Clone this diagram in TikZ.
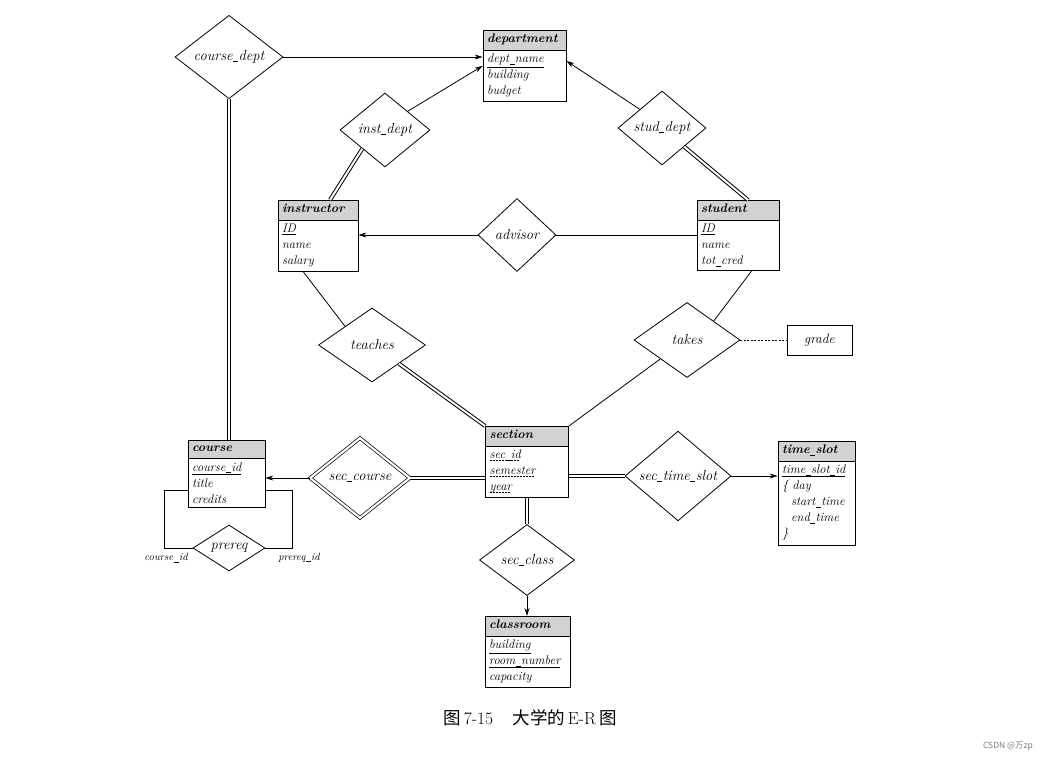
\documentclass[tikz,border=0pt]{standalone}
\usepackage{fontspec}
\newfontfamily\cjk{Noto Sans CJK SC}
\usepackage{tikz}
\usetikzlibrary{arrows.meta}
\usetikzlibrary{shapes.geometric, shapes.multipart}

% short underscore and dashed underline (weak entity discriminator)
\newcommand{\us}{\kern0.4pt\rule[-1.3pt]{5pt}{0.5pt}\kern0.4pt}
\newcommand{\dashul}[1]{\leavevmode\setbox0\hbox{#1}\rlap{\raisebox{-2.2pt}{\hbox to \wd0{\leaders\hbox to 3pt{\vrule height 0.5pt width 2pt\hfil}\hfill}}}\box0}
\newcommand{\hd}[1]{\centering\rule[-3.5pt]{0pt}{10.5pt}\textbf{#1}}

\tikzset{
  entity/.style={rectangle split, rectangle split parts=2, draw, line width=0.8pt,
    rectangle split part fill={gray!35,white}, text width=#1,
    inner xsep=4pt, inner ysep=3.5pt, anchor=north, align=left,
    font=\fontsize{12.5}{16}\selectfont\itshape},
  rel/.style={diamond, draw, line width=0.8pt, inner sep=0pt,
    font=\fontsize{14.5}{16}\selectfont\itshape},
  weakrel/.style={rel, double, double distance=2.2pt, line width=0.7pt},
  dbl/.style={double, double distance=2pt, line width=1pt},
  attrlbl/.style={font=\fontsize{10.5}{12}\selectfont\itshape},
}

\begin{document}
\begin{tikzpicture}[x=1pt, y=-1pt, line width=0.8pt]
\useasboundingbox[fill=white] (0,0) rectangle (1053,763);
\begin{scope}[>={Stealth[black, length=8pt, width=5pt]},
              every edge/.style={draw=black}]
    % entity sets
    \node[entity=75pt] (department) at (524.5,30)
        {\hd{department}\nodepart{second}\underline{dept\us name}\\ building\\ budget};
    \node[entity=72pt] (instructor) at (318,200)
        {\hd{instructor}\nodepart{second}\underline{ID}\\ name\\ salary};
    \node[entity=74pt] (student) at (738,200)
        {\hd{student}\nodepart{second}\underline{ID}\\ name\\ tot\us cred};
    \node[entity=69pt] (course) at (226.5,440)
        {\hd{course}\nodepart{second}\underline{course\us id}\\ title\\ credits};
    \node[entity=75pt] (section) at (527,426)
        {\hd{section}\nodepart{second}\dashul{sec\us id}\\ \dashul{semester}\\ \dashul{year}};
    \node[entity=69pt] (time_slot) at (816.5,441)
        {\hd{time\us slot}\nodepart{second}\underline{time\us slot\us id}\\
         \{ day\\ \hspace*{9pt}start\us time\\ \hspace*{9pt}end\us time\\ \}};
    \node[entity=77pt] (classroom) at (527.5,616)
        {\hd{classroom}\nodepart{second}\underline{building}\\ \underline{room\us number}\\ capacity};
    \node[draw, minimum width=65pt, minimum height=30pt, font=\fontsize{13.5}{16}\selectfont\itshape]
        (grade) at (819.5,340) {grade};
    % relationship sets
    \node[rel, minimum width=108pt, minimum height=76pt] (course_dept) at (229,57) {course\us dept};
    \node[rel, minimum width=90pt, minimum height=74pt] (inst_dept) at (385,130) {inst\us dept};
    \node[rel, minimum width=88pt, minimum height=74pt] (stud_dept) at (662,128) {stud\us dept};
    \node[rel, minimum width=78pt, minimum height=73pt] (advisor) at (517,235) {advisor};
    \node[rel, minimum width=107pt, minimum height=74pt] (teaches) at (372,345) {teaches};
    \node[rel, minimum width=106pt, minimum height=75pt] (takes) at (687,340) {takes};
    \node[weakrel, minimum width=100pt, minimum height=80pt] (sec_course) at (360,478) {sec\us course};
    \node[rel, minimum width=106pt, minimum height=73pt] (sec_time_slot) at (678,476) {sec\us time\us slot};
    \node[rel, minimum width=95pt, minimum height=71pt] (sec_class) at (527,560) {sec\us class};
    \node[rel, minimum width=72pt, minimum height=46pt] (prereq) at (229,548) {prereq};
    % connectors
    \path [->] (course_dept.east) edge (course_dept.east -| department.west);
    \path [->] (inst_dept.north east) edge (department.west);
    \path [->] (stud_dept.north west) edge ([yshift=5pt]department.east);
    \path [->] (advisor.west) edge (advisor.west -| instructor.east);
    \path (advisor.east) edge (advisor.east -| student.west);
    \path ([xshift=-15pt]instructor.south) edge (teaches.north west);
    \path ([xshift=14pt]student.south) edge (takes.north east);
    \path (takes.south west) edge (section.north east);
    \path (takes.east) edge[dash pattern=on 2pt off 1.5pt] (grade.west);
    \path [->] (sec_course.west) edge (sec_course.west -| course.east);
    \path [->] (sec_time_slot.east) edge (sec_time_slot.east -| time_slot.west);
    \path [->] (sec_class.south) edge (sec_class.south |- classroom.north);
\end{scope}
% total participation
\draw[dbl] (course_dept.south) -- (course_dept.south |- course.north);
\draw[dbl] (inst_dept.south west) -- ([xshift=12pt]instructor.north);
\draw[dbl] (stud_dept.south east) -- ([xshift=10pt]student.north);
\draw[dbl] (teaches.south east) -- (section.north west);
\draw[dbl] (sec_course.east) -- (sec_course.east -| section.west);
\draw[dbl] (sec_time_slot.west -| section.east) -- (sec_time_slot.west);
\draw[dbl] (section.south) -- (section.south |- sec_class.north);
% recursive prereq loop on course
\coordinate (cid) at (164,490);
\coordinate (pid) at (292,490);
\draw (prereq.west) -| (cid) -- (cid -| course.west);
\draw (prereq.east) -| (pid) -- (pid -| course.east);
\node[attrlbl] (cid_lbl) at (166,558) {course\us id};
\node[attrlbl] (pid_lbl) at (299,558) {prereq\us id};
% caption and mark
\node[font=\fontsize{17.5}{20}\selectfont] (caption) at (530,718)
    {{\cjk 图}\,7-15\hspace{1.1em}{\cjk 大学的}\,E-R\,{\cjk 图}};
\node[font=\cjk\fontsize{8.5}{10}\selectfont, text=gray] (mark) at (1008,746) {CSDN @万zp};
\end{tikzpicture}
\end{document}
